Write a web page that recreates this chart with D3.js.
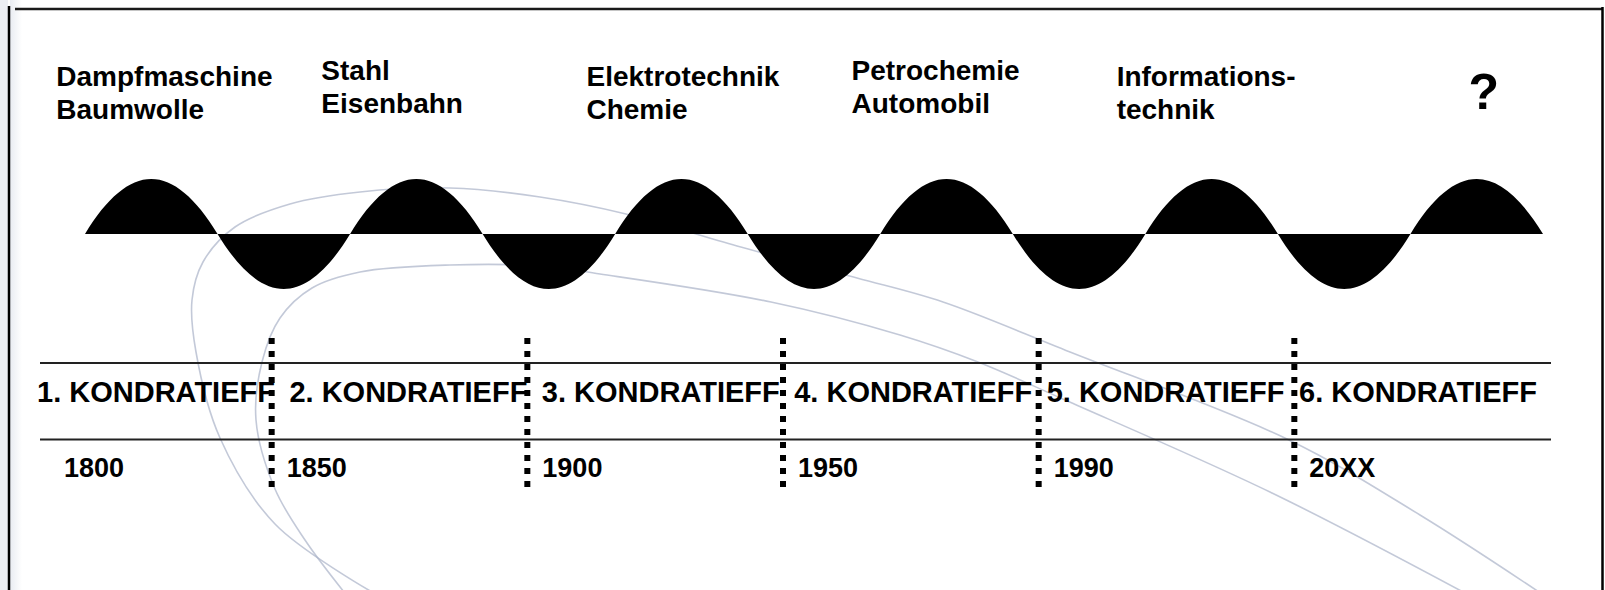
<!DOCTYPE html>
<html lang="de">
<head>
  <meta charset="utf-8">
  <title>Kondratieff-Zyklen</title>
  <script src="https://d3js.org/d3.v7.min.js"></script>
  <style>
    body { margin: 0; background: #fff; }
    svg { display: block; }
    .lbl {
      font-family: "Liberation Sans", Arial, sans-serif;
      font-weight: bold;
      fill: #000;
    }
    .rule { stroke: #222; stroke-width: 2; }
    .divider { stroke: #000; stroke-width: 6; stroke-dasharray: 6,7; }
    .swoosh { fill: none; stroke: #a9b2c8; stroke-width: 1.6; opacity: 0.7; }
  </style>
</head>
<body>
<script>
  // Basisinnovationen je Zyklus (oben)
  const innovations = [
    ["Dampfmaschine", "Baumwolle"],
    ["Stahl", "Eisenbahn"],
    ["Elektrotechnik", "Chemie"],
    ["Petrochemie", "Automobil"],
    ["Informations-", "technik"],
    ["?"]
  ];
  const waves = ["1. KONDRATIEFF", "2. KONDRATIEFF", "3. KONDRATIEFF",
                 "4. KONDRATIEFF", "5. KONDRATIEFF", "6. KONDRATIEFF"];
  const startYears = ["1800", "1850", "1900", "1950", "1990", "20XX"];
  // Auf- (+1) und Abschwung (-1) je Halbwelle
  const waveSigns = [1, -1, 1, -1, 1, -1, 1, -1, 1, -1, 1];

  // decorative background swooshes (pixel space)
  const swooshA = [[372,592],[275,524],[220,438],[196,352],[192,300],[203,262],[235,227],
                   [290,204],[360,192],[450,188],[540,197],[626,214],[737,246],[857,278],
                   [943,302],[1070,352],[1289,440],[1420,515],[1545,596]];
  const swooshB = [[344,592],[305,540],[275,489],[256,420],[262,362],[280,318],[312,288],
                   [360,272],[450,265],[540,266],[600,274],[771,302],[900,335],[978,362],
                   [1065,400],[1272,493],[1478,600]];

  const W = 1605, H = 590;
  const svg = d3.select("body").append("svg").attr("width", W).attr("height", H);

  // light shading at the left edge + frame
  const grad = svg.append("defs").append("linearGradient").attr("id", "edge");
  grad.append("stop").attr("offset", "0%").attr("stop-color", "#e9ecf2");
  grad.append("stop").attr("offset", "100%").attr("stop-color", "#fff");
  svg.append("rect").attr("x", 0).attr("y", 0).attr("width", 8).attr("height", H).attr("fill", "#eceef3");
  svg.append("rect").attr("x", 10).attr("y", 0).attr("width", 12).attr("height", H).attr("fill", "url(#edge)");

  // swooshes
  const sw = d3.line().curve(d3.curveCatmullRom.alpha(0.5));
  svg.selectAll(".swoosh").data([swooshA, swooshB]).enter()
    .append("path").attr("class", "swoosh").attr("d", sw);

  svg.append("line").attr("x1", 15).attr("x2", 1603).attr("y1", 9).attr("y2", 9)
    .attr("stroke", "#1a1a1a").attr("stroke-width", 2.5);
  svg.append("line").attr("x1", 9).attr("x2", 9).attr("y1", 6).attr("y2", H)
    .attr("stroke", "#000").attr("stroke-width", 2.5);
  svg.append("line").attr("x1", 1602.5).attr("x2", 1602.5).attr("y1", 7).attr("y2", H)
    .attr("stroke", "#000").attr("stroke-width", 2.5);

  // scales
  const xWave = d3.scaleLinear().domain([0, waveSigns.length]).range([85, 1543]);
  const yWave = d3.scaleLinear().domain([-1, 1]).range([289, 179]);
  const xCycle = d3.scaleLinear().domain([0, waves.length]).range([16, 1550]);
  const xName = d3.scalePoint().domain(waves).range([156, 1418]);

  // wave: each half wave = two cubic segments (crossing -> crest -> crossing)
  const p = d3.path();
  p.moveTo(xWave(0), yWave(0));
  waveSigns.forEach((s, i) => {
    p.bezierCurveTo(xWave(i + 1/6), yWave(0.66 * s), xWave(i + 1/3), yWave(s), xWave(i + 0.5), yWave(s));
    p.bezierCurveTo(xWave(i + 2/3), yWave(s), xWave(i + 5/6), yWave(0.66 * s), xWave(i + 1), yWave(0));
  });
  p.closePath();
  svg.append("path").attr("d", p.toString()).attr("fill", "#000");

  // innovation labels above crests
  innovations.forEach((lines, i) => {
    const crest = xWave(2 * i + 0.5);
    if (lines[0] === "?") {
      svg.append("text").attr("class", "lbl")
        .attr("x", crest + 7).attr("y", 109)
        .attr("text-anchor", "middle")
        .style("font-size", "50px")
        .text("?");
      return;
    }
    const x0 = crest - 95;
    const t = svg.append("text").attr("class", "lbl")
      .attr("y", i % 2 ? 79.5 : 86)
      .style("font-size", "28px");
    lines.forEach((s, j) => {
      t.append("tspan").attr("x", x0).attr("dy", j ? 33 : 0).text(s);
    });
  });

  // table rules
  [363, 439.5].forEach(y => {
    svg.append("line").attr("class", "rule")
      .attr("x1", 40).attr("x2", 1551).attr("y1", y).attr("y2", y);
  });

  // cycle names
  svg.selectAll(".wave").data(waves).enter()
    .append("text").attr("class", "lbl wave")
    .attr("x", d => xName(d))
    .attr("y", 402)
    .attr("text-anchor", "middle")
    .style("font-size", "29px")
    .text(d => d);

  // start years
  svg.selectAll(".year").data(startYears).enter()
    .append("text").attr("class", "lbl year")
    .attr("x", (d, i) => i === 0 ? xCycle(0) + 48 : xCycle(i) + 15)
    .attr("y", 477)
    .style("font-size", "27px")
    .text(d => d);

  // dotted dividers between cycles
  svg.selectAll(".divider").data(d3.range(1, waves.length)).enter()
    .append("line").attr("class", "divider")
    .attr("x1", d => xCycle(d)).attr("x2", d => xCycle(d))
    .attr("y1", 338).attr("y2", 488);
</script>
</body>
</html>
